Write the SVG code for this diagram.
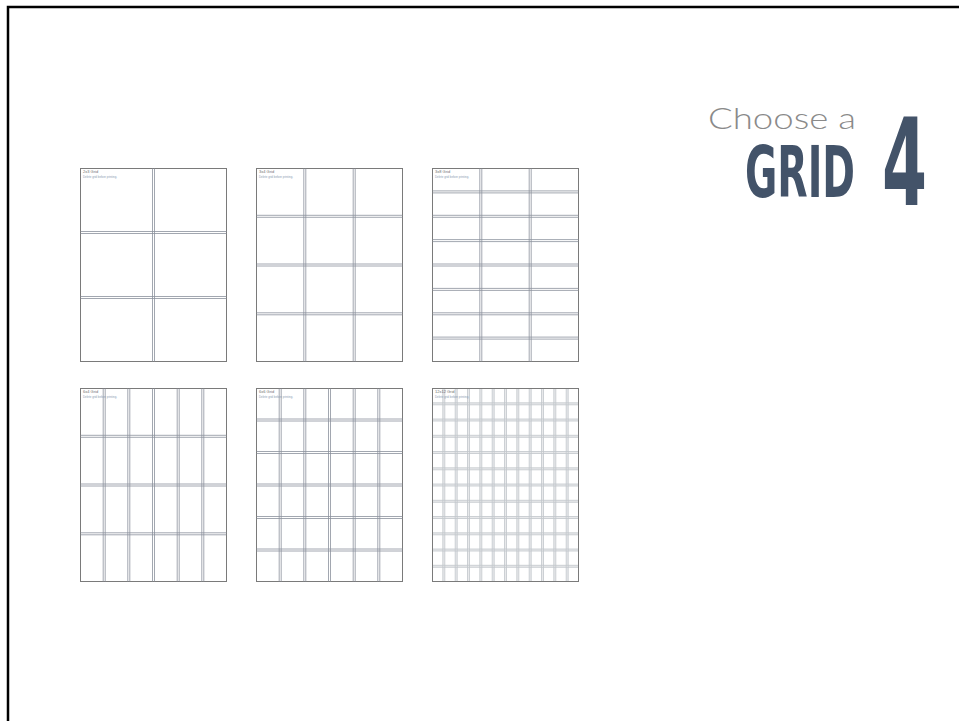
<svg xmlns="http://www.w3.org/2000/svg" width="959" height="721" viewBox="0 0 959 721">
<style>
.page{fill:#ffffff;stroke:#7a7a7a;stroke-width:1}
.edge{fill:none;stroke:#7a7a7a;stroke-width:1}
.gl{fill:none;stroke:#8a919c;stroke-width:0.8}
.gl12{fill:none;stroke:#c2c6cc;stroke-width:0.8}
.gut12{fill:#e8e9eb}
.hd{font-family:"Liberation Sans",Arial,sans-serif;font-size:4px;fill:#6f6f6f}
.sub{font-family:"Liberation Sans",Arial,sans-serif;font-size:2.9px;fill:#8d9cb3}
.choose{font-family:Lato,"Open Sans",sans-serif;font-weight:300;font-size:30px;fill:#8a8a8a}
.big{font-family:"DejaVu Sans",sans-serif;font-weight:bold;font-stretch:condensed;fill:#435369}
</style>
<rect x="0" y="0" width="959" height="721" fill="#ffffff"/>
<path d="M8,721 V7 H959" fill="none" stroke="#000000" stroke-width="2.5"/>

<g id="title">
<text class="choose" x="708" y="129" textLength="148" lengthAdjust="spacingAndGlyphs">Choose a</text>
<text class="big" transform="translate(745,197) scale(0.6,1)" x="0" y="0" font-size="71" textLength="183.3" lengthAdjust="spacingAndGlyphs">GRID</text>
<text class="big" transform="translate(882,205) scale(0.6,1)" x="0" y="0" font-size="121" textLength="75" lengthAdjust="spacingAndGlyphs">4</text>
</g>

<g id="grid-2x3">
<rect class="page" x="80.5" y="168.5" width="146" height="193"/>
<path class="gl" d="M152.5,168.5V361.5M154.5,168.5V361.5M80.5,231.5H226.5M80.5,233.5H226.5M80.5,296.5H226.5M80.5,298.5H226.5"/>
<text class="hd" x="83" y="173.3">2x3 Grid</text>
<text class="sub" x="83" y="177.6">Delete grid before printing.</text>
</g>

<g id="grid-3x4">
<rect class="page" x="256.5" y="168.5" width="146" height="193"/>
<path class="gl" d="M303.8,168.5V361.5M305.8,168.5V361.5M353.2,168.5V361.5M355.2,168.5V361.5M256.5,215.3H402.5M256.5,217.3H402.5M256.5,264H402.5M256.5,266H402.5M256.5,312.8H402.5M256.5,314.8H402.5"/>
<text class="hd" x="259" y="173.3">3x4 Grid</text>
<text class="sub" x="259" y="177.6">Delete grid before printing.</text>
</g>

<g id="grid-3x8">
<rect class="page" x="432.5" y="168.5" width="146" height="193"/>
<path class="gl" d="M479.8,168.5V361.5M481.8,168.5V361.5M529.2,168.5V361.5M531.2,168.5V361.5M432.5,190.9H578.5M432.5,192.9H578.5M432.5,215.3H578.5M432.5,217.3H578.5M432.5,239.6H578.5M432.5,241.6H578.5M432.5,264H578.5M432.5,266H578.5M432.5,288.4H578.5M432.5,290.4H578.5M432.5,312.8H578.5M432.5,314.8H578.5M432.5,337.1H578.5M432.5,339.1H578.5"/>
<text class="hd" x="435" y="173.3">3x8 Grid</text>
<text class="sub" x="435" y="177.6">Delete grid before printing.</text>
</g>

<g id="grid-6x4">
<rect class="page" x="80.5" y="388.5" width="146" height="193"/>
<path class="gl" d="M103.2,388.5V581.5M105.2,388.5V581.5M127.8,388.5V581.5M129.8,388.5V581.5M152.5,388.5V581.5M154.5,388.5V581.5M177.2,388.5V581.5M179.2,388.5V581.5M201.8,388.5V581.5M203.8,388.5V581.5M80.5,435.3H226.5M80.5,437.3H226.5M80.5,484H226.5M80.5,486H226.5M80.5,532.8H226.5M80.5,534.8H226.5"/>
<text class="hd" x="83" y="393.3">6x4 Grid</text>
<text class="sub" x="83" y="397.6">Delete grid before printing.</text>
</g>

<g id="grid-6x6">
<rect class="page" x="256.5" y="388.5" width="146" height="193"/>
<path class="gl" d="M279.2,388.5V581.5M281.2,388.5V581.5M303.8,388.5V581.5M305.8,388.5V581.5M328.5,388.5V581.5M330.5,388.5V581.5M353.2,388.5V581.5M355.2,388.5V581.5M377.8,388.5V581.5M379.8,388.5V581.5M256.5,419H402.5M256.5,421H402.5M256.5,451.5H402.5M256.5,453.5H402.5M256.5,484H402.5M256.5,486H402.5M256.5,516.5H402.5M256.5,518.5H402.5M256.5,549H402.5M256.5,551H402.5"/>
<text class="hd" x="259" y="393.3">6x6 Grid</text>
<text class="sub" x="259" y="397.6">Delete grid before printing.</text>
</g>

<g id="grid-12x12">
<rect class="page" x="432.5" y="388.5" width="146" height="193"/>
<g class="gut12">
<rect x="442.8" y="388.5" width="2" height="193"/>
<rect x="455.2" y="388.5" width="2" height="193"/>
<rect x="467.5" y="388.5" width="2" height="193"/>
<rect x="479.8" y="388.5" width="2" height="193"/>
<rect x="492.2" y="388.5" width="2" height="193"/>
<rect x="504.5" y="388.5" width="2" height="193"/>
<rect x="516.8" y="388.5" width="2" height="193"/>
<rect x="529.2" y="388.5" width="2" height="193"/>
<rect x="541.5" y="388.5" width="2" height="193"/>
<rect x="553.8" y="388.5" width="2" height="193"/>
<rect x="566.2" y="388.5" width="2" height="193"/>
<rect x="432.5" y="402.8" width="146" height="2"/>
<rect x="432.5" y="419" width="146" height="2"/>
<rect x="432.5" y="435.3" width="146" height="2"/>
<rect x="432.5" y="451.5" width="146" height="2"/>
<rect x="432.5" y="467.8" width="146" height="2"/>
<rect x="432.5" y="484" width="146" height="2"/>
<rect x="432.5" y="500.3" width="146" height="2"/>
<rect x="432.5" y="516.5" width="146" height="2"/>
<rect x="432.5" y="532.8" width="146" height="2"/>
<rect x="432.5" y="549" width="146" height="2"/>
<rect x="432.5" y="565.3" width="146" height="2"/>
</g>
<path class="gl12" d="M442.8,388.5V581.5M444.8,388.5V581.5M455.2,388.5V581.5M457.2,388.5V581.5M467.5,388.5V581.5M469.5,388.5V581.5M479.8,388.5V581.5M481.8,388.5V581.5M492.2,388.5V581.5M494.2,388.5V581.5M504.5,388.5V581.5M506.5,388.5V581.5M516.8,388.5V581.5M518.8,388.5V581.5M529.2,388.5V581.5M531.2,388.5V581.5M541.5,388.5V581.5M543.5,388.5V581.5M553.8,388.5V581.5M555.8,388.5V581.5M566.2,388.5V581.5M568.2,388.5V581.5M432.5,402.8H578.5M432.5,404.8H578.5M432.5,419H578.5M432.5,421H578.5M432.5,435.3H578.5M432.5,437.3H578.5M432.5,451.5H578.5M432.5,453.5H578.5M432.5,467.8H578.5M432.5,469.8H578.5M432.5,484H578.5M432.5,486H578.5M432.5,500.3H578.5M432.5,502.3H578.5M432.5,516.5H578.5M432.5,518.5H578.5M432.5,532.8H578.5M432.5,534.8H578.5M432.5,549H578.5M432.5,551H578.5M432.5,565.3H578.5M432.5,567.3H578.5"/>
<rect class="edge" x="432.5" y="388.5" width="146" height="193"/>
<text class="hd" x="435" y="393.3">12x12 Grid</text>
<text class="sub" x="435" y="397.6">Delete grid before printing.</text>
</g>
</svg>
